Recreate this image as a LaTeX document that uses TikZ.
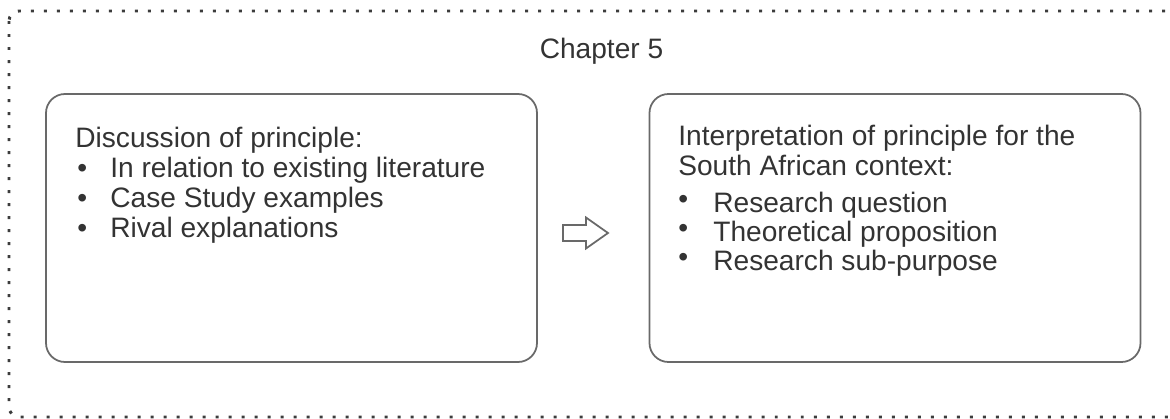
\documentclass[tikz,border=0pt]{standalone}
\usepackage{fontspec}
\setmainfont{Liberation Sans}
\definecolor{txtgray}{RGB}{51,51,51}
\definecolor{boxgray}{RGB}{105,105,105}
\definecolor{dotgray}{RGB}{60,60,60}
\begin{document}
\begin{tikzpicture}[box/.style={draw=boxgray,line width=1pt,rounded corners=0.38cm,
            minimum width=9.82cm,minimum height=5.36cm,inner sep=0pt},
            txt/.style={anchor=base west,inner sep=0pt,text=txtgray,
            font=\fontsize{16}{19}\selectfont}]
            \useasboundingbox (0,0) rectangle (23.4,8.36);

            % outer dotted frame
            \draw[dotgray,line width=1.7pt,dash pattern=on 1.7pt off 5.7pt,
            rounded corners=0.2cm] (0.18,8.14) rectangle (23.62,0.02);

            \node[txt,anchor=base] (chap) at (12.03,7.20) {Chapter 5};

            \node[box] (disc) at (5.83,3.80) {};
            \node[box] (interp) at (17.90,3.80) {};

            % block arrow between the boxes
            \coordinate (arr) at (11.26,3.70);
            \draw[boxgray,line width=1pt,line join=miter] (arr) ++(0,-0.16) -- ++(0.46,0)
            -- ++(0,-0.15) -- ++(0.44,0.31) -- ++(-0.44,0.31) -- ++(0,-0.15)
            -- ++(-0.46,0) -- cycle;

            % left box
            \node[txt] (dhead) at (1.50,5.42) {Discussion of principle:};
            \node[txt] (db1) at (1.54,4.82) {\textbullet};
            \node[txt] (d1) at (2.20,4.82) {In relation to existing literature};
            \node[txt] (db2) at (1.54,4.22) {\textbullet};
            \node[txt] (d2) at (2.20,4.22) {Case Study examples};
            \node[txt] (db3) at (1.54,3.62) {\textbullet};
            \node[txt] (d3) at (2.20,3.62) {Rival explanations};

            % right box
            \node[txt] (ihead1) at (13.56,5.46) {Interpretation of principle for the};
            \node[txt] (ihead2) at (13.56,4.86) {South African context:};
            \node[txt] (ib1) at (13.56,4.20) {\textbullet};
            \node[txt] (i1) at (14.26,4.12) {Research question};
            \node[txt] (ib2) at (13.56,3.62) {\textbullet};
            \node[txt] (i2) at (14.26,3.54) {Theoretical proposition};
            \node[txt] (ib3) at (13.56,3.04) {\textbullet};
            \node[txt] (i3) at (14.26,2.96) {Research sub-purpose};
        \end{tikzpicture}
\end{document}
